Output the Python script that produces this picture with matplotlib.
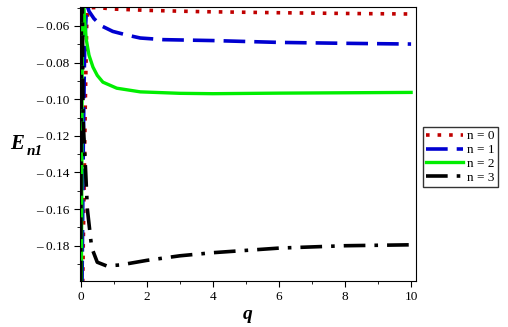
import numpy as np
import matplotlib.pyplot as plt
from matplotlib.ticker import MultipleLocator

plt.rcParams['font.family'] = ['Liberation Serif', 'DejaVu Serif']

# values (curves leave the box near q = 0)
q0 = [0.06, 0.10, 0.14, 0.18, 0.22, 0.3, 0.5, 0.7, 1.0, 2.0, 3.6, 6.0, 8.0, 10.0]
E0 = [-0.20, -0.15, -0.10, -0.06, -0.051, -0.0500, -0.0500, -0.0503, -0.0508, -0.0515, -0.0522, -0.0528, -0.0532, -0.0535]

q1 = [0.04, 0.08, 0.12, 0.18, 0.25, 0.4, 0.63, 0.97, 1.4, 1.8, 2.5, 4.0, 6.0, 8.0, 10.0]
E1 = [-0.20, -0.12, -0.07, -0.048, -0.052, -0.056, -0.060, -0.063, -0.065, -0.0666, -0.0675, -0.068, -0.069, -0.0695, -0.0699]

q2 = [0.02, 0.05, 0.09, 0.12, 0.17, 0.25, 0.37, 0.5, 0.67, 1.09, 1.8, 3.0, 4.0, 6.0, 8.0, 10.0]
E2 = [-0.20, -0.05, -0.048, -0.058, -0.0677, -0.076, -0.0825, -0.087, -0.0907, -0.094, -0.096, -0.0968, -0.097, -0.0967, -0.0965, -0.0963]

q3 = [0.0, 0.02, 0.05, 0.07, 0.15, 0.2, 0.33, 0.5, 0.78, 1.2, 2.0, 3.0, 4.0, 6.0, 8.0, 10.0]
E3 = [-0.20, -0.05, -0.05, -0.111, -0.14, -0.16, -0.181, -0.189, -0.191, -0.1905, -0.188, -0.1855, -0.1838, -0.1813, -0.180, -0.1795]

labels = ['n = 0', 'n = 1', 'n = 2', 'n = 3']
yticks = [-0.18, -0.16, -0.14, -0.12, -0.10, -0.08, -0.06]
ytick_labels = ['\u2013 0.18', '\u2013 0.16', '\u2013 0.14', '\u2013 0.12', '\u2013 0.10', '\u2013 0.08', '\u2013 0.06']

fig = plt.figure(figsize=(5.08, 3.27), dpi=100)
ax = fig.add_axes([0.157, 0.141, 0.662, 0.838])

ax.plot(q0, E0, color='#c00000', ls=(0, (1, 2.2)), lw=2.6, label=labels[0])
ax.plot(q1, E1, color='#0000d0', ls=(0, (6, 2.5)), lw=2.6, label=labels[1])
ax.plot(q2, E2, color='#00ee00', ls='-', lw=2.4, label=labels[2])
ax.plot(q3, E3, color='black', ls=(0, (6, 2.5, 1, 2.5)), lw=2.6, label=labels[3])

ax.set_xlim(-0.03, 10.15)
ax.set_ylim(-0.1992, -0.0496)
ax.xaxis.set_major_locator(MultipleLocator(2))
ax.xaxis.set_minor_locator(MultipleLocator(1))
ax.set_yticks(yticks)
ax.set_yticklabels(ytick_labels)
ax.yaxis.set_minor_locator(MultipleLocator(0.01))
ax.tick_params(which='major', length=4, labelsize=9.5, direction='out')
ax.tick_params(which='minor', length=2.5, direction='out')

ax.set_xlabel('q', fontsize=14, fontweight='bold', style='italic', labelpad=2)
fig.text(0.02, 0.545, 'E', fontsize=15, fontweight='bold', style='italic')
fig.text(0.052, 0.525, 'n1', fontsize=11, fontweight='bold', style='italic')

leg = ax.legend(loc='upper left', bbox_to_anchor=(1.02, 0.562), fontsize=9.5,
                frameon=True, fancybox=False, edgecolor='black', borderaxespad=0,
                handlelength=2.8, handletextpad=0.3, labelspacing=0.12,
                borderpad=0.25)
leg.get_frame().set_linewidth(1.0)

plt.savefig('out.png', dpi=100)
